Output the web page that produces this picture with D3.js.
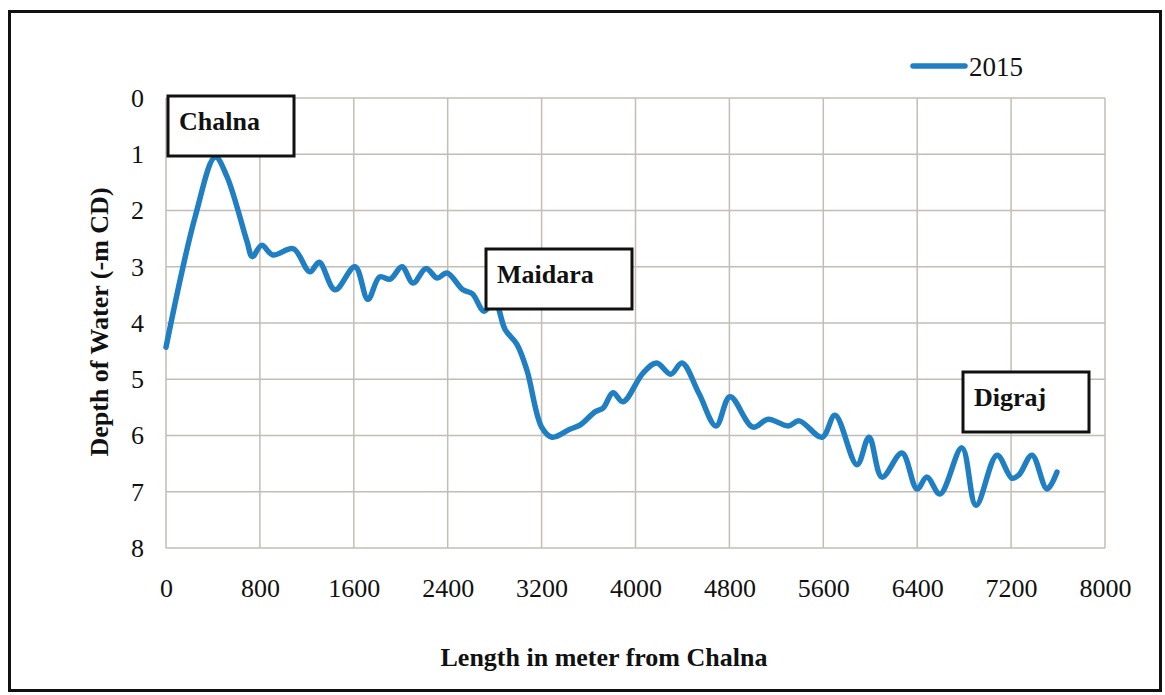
<!DOCTYPE html>
<html>
<head>
<meta charset="utf-8">
<script src="https://cdn.jsdelivr.net/npm/d3@7"></script>
<style>
  html, body { margin: 0; padding: 0; background: #ffffff; }
  svg { display: block; }
  text { font-family: "Liberation Serif", "Times New Roman", serif; fill: #111; }
</style>
</head>
<body>
<svg id="chart" width="1165" height="695"></svg>
<script>
// ---- data ----
const seriesName = "2015";
const distance = [0, 250, 420, 520, 690, 735, 815, 910, 1085, 1225, 1305, 1440, 1610, 1720, 1820, 1910, 2010, 2105, 2215, 2310, 2395, 2530, 2610, 2710, 2800, 2890, 2990, 3075, 3200, 3290, 3440, 3530, 3655, 3725, 3808, 3893, 4064, 4180, 4300, 4396, 4540, 4686, 4805, 5000, 5130, 5300, 5395, 5590, 5700, 5887, 5990, 6100, 6270, 6398, 6483, 6594, 6781, 6901, 7080, 7207, 7267, 7378, 7506, 7591];
const depth = [4.43, 2.1, 1.05, 1.4, 2.55, 2.82, 2.62, 2.79, 2.68, 3.09, 2.92, 3.41, 3.0, 3.58, 3.18, 3.22, 3.0, 3.29, 3.03, 3.2, 3.11, 3.41, 3.48, 3.79, 3.62, 4.12, 4.38, 4.84, 5.85, 6.03, 5.89, 5.81, 5.58, 5.51, 5.24, 5.4, 4.89, 4.71, 4.91, 4.71, 5.25, 5.83, 5.31, 5.85, 5.71, 5.83, 5.74, 6.03, 5.64, 6.52, 6.03, 6.74, 6.31, 6.95, 6.74, 7.04, 6.22, 7.24, 6.35, 6.76, 6.7, 6.35, 6.95, 6.65];
const xTicks = [0, 800, 1600, 2400, 3200, 4000, 4800, 5600, 6400, 7200, 8000];
const yTicks = [0, 1, 2, 3, 4, 5, 6, 7, 8];
const places = ["Chalna", "Maidara", "Digraj"];
const xTitle = "Length in meter from Chalna";
const yTitle = "Depth of Water (-m CD)";

// ---- layout ----
const svg = d3.select("#chart");
const plot = { left: 166, right: 1105, top: 98, bottom: 548 };
const x = d3.scaleLinear().domain([0, 8000]).range([plot.left, plot.right]);
const y = d3.scaleLinear().domain([0, 8]).range([plot.top, plot.bottom]);
const gridColor = "#c4bdb5";
const lineColor = "#1f7fc2";
const fs = 26;

// outer frame
svg.append("rect").attr("x", 9.5).attr("y", 11.5).attr("width", 1151).attr("height", 679)
  .attr("fill", "none").attr("stroke", "#111").attr("stroke-width", 3);

// gridlines
svg.append("g").selectAll("line.v").data(xTicks).join("line")
  .attr("x1", d => x(d)).attr("x2", d => x(d))
  .attr("y1", plot.top).attr("y2", plot.bottom)
  .attr("stroke", gridColor).attr("stroke-width", 1.5);
svg.append("g").selectAll("line.h").data(yTicks).join("line")
  .attr("x1", plot.left).attr("x2", plot.right)
  .attr("y1", d => y(d)).attr("y2", d => y(d))
  .attr("stroke", gridColor).attr("stroke-width", 1.5);

// axes (labels only)
const xAxis = svg.append("g").attr("transform", `translate(0,${plot.bottom})`)
  .call(d3.axisBottom(x).tickValues(xTicks).tickSize(0).tickPadding(31).tickFormat(d3.format("d")));
xAxis.select(".domain").remove();
xAxis.selectAll("text").attr("font-size", fs).attr("font-family", "Liberation Serif").attr("fill", "#111");

const yAxis = svg.append("g").attr("transform", `translate(${plot.left},0)`)
  .call(d3.axisLeft(y).tickValues(yTicks).tickSize(0).tickPadding(22).tickFormat(d3.format("d")));
yAxis.select(".domain").remove();
yAxis.selectAll("text").attr("font-size", fs).attr("font-family", "Liberation Serif").attr("fill", "#111");

// axis titles
svg.append("text").attr("x", 604).attr("y", 666).attr("text-anchor", "middle")
  .attr("font-size", fs).attr("font-weight", "bold").text(xTitle);
svg.append("text").attr("transform", "translate(108,322) rotate(-90)").attr("text-anchor", "middle")
  .attr("font-size", fs).attr("font-weight", "bold").text(yTitle);

// line
const pts = distance.map((d, i) => [d, depth[i]]);
const line = d3.line().x(d => x(d[0])).y(d => y(d[1])).curve(d3.curveCatmullRom.alpha(0.5));
svg.append("path").datum(pts).attr("d", line)
  .attr("fill", "none").attr("stroke", lineColor).attr("stroke-width", 5.5)
  .attr("stroke-linejoin", "round").attr("stroke-linecap", "round");

// place label boxes
const boxes = [
  { name: places[0], x0: 168, y0: 96, w: 126, h: 60 },
  { name: places[1], x0: 486, y0: 249, w: 146, h: 60 },
  { name: places[2], x0: 963, y0: 372, w: 126, h: 60 }
];
const bg = svg.append("g");
boxes.forEach(b => {
  bg.append("rect").attr("x", b.x0).attr("y", b.y0).attr("width", b.w).attr("height", b.h)
    .attr("fill", "#fff").attr("stroke", "#111").attr("stroke-width", 3);
  bg.append("text").attr("x", b.x0 + 11).attr("y", b.y0 + 34)
    .attr("font-size", fs).attr("font-weight", "bold").text(b.name);
});

// legend
svg.append("line").attr("x1", 913).attr("x2", 965).attr("y1", 66).attr("y2", 66)
  .attr("stroke", lineColor).attr("stroke-width", 5.5).attr("stroke-linecap", "round");
svg.append("text").attr("x", 969).attr("y", 76).attr("font-size", 27).text(seriesName);
</script>
</body>
</html>
